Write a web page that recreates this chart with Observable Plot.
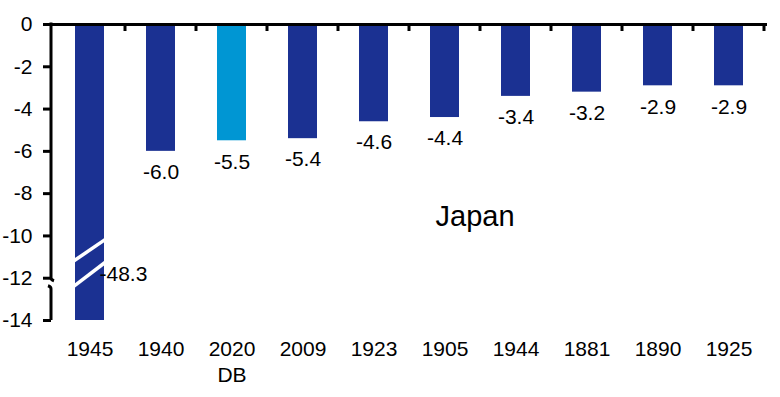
<!DOCTYPE html>
<html>
<head>
<meta charset="utf-8">
<script src="https://cdn.jsdelivr.net/npm/d3@7"></script>
<script src="https://cdn.jsdelivr.net/npm/@observablehq/plot@0.6"></script>
<style>
  html, body { margin: 0; padding: 0; background: #fff; }
  #chart svg { display: block; }
</style>
</head>
<body>
<div id="chart"></div>
<script>
// Data
const categories = ["1945", "1940", "2020\nDB", "2009", "1923", "1905", "1944", "1881", "1890", "1925"];
const values = [-48.3, -6.0, -5.5, -5.4, -4.6, -4.4, -3.4, -3.2, -2.9, -2.9];
const highlighted = ["2020\nDB"];
const yTicks = [0, -2, -4, -6, -8, -10, -12, -14];
const panelLabel = "Japan";

const data = categories.map((c, i) => ({cat: c, value: values[i], hl: highlighted.includes(c)}));

const navy = "#1B3192";
const lightBlue = "#0096D3";
const font = "'Liberation Sans', Arial, Helvetica, sans-serif";

// Custom decorations: band-boundary ticks on the zero line, broken y-axis line, break marks on clipped bar
function decorations(...args) {
  const scales = args.find(a => a && typeof a.x === "function" && typeof a.y === "function");
  const dims = args.find(a => a && typeof a === "object" && "marginLeft" in a && "width" in a);
  const x = scales.x, y = scales.y;
  const bw = typeof x.bandwidth === "function" ? x.bandwidth() : x.bandwidth;
  const step = typeof x.step === "function" ? x.step() : x.step;
  const g = d3.create("svg:g");
  const left = dims.marginLeft;
  // boundary ticks hanging from the zero line
  for (const c of categories) {
    const xb = x(c) + bw / 2 + step / 2;
    g.append("line").attr("x1", xb).attr("x2", xb).attr("y1", y(0)).attr("y2", y(0) + 7)
      .attr("stroke", "#000").attr("stroke-width", 3);
  }
  // y axis line with break
  const yBreakTop = y(-12), yBreakBot = y(-12.38);
  g.append("path")
    .attr("d", `M${left},${y(0) - 1.5}L${left},${yBreakTop}q0,2 3,3`)
    .attr("fill", "none").attr("stroke", "#000").attr("stroke-width", 3);
  g.append("path")
    .attr("d", `M${left - 3},${yBreakBot}q3,1 3,3L${left},${y(-14)}`)
    .attr("fill", "none").attr("stroke", "#000").attr("stroke-width", 3);
  // break marks on the clipped bar
  const c0 = categories[0];
  const xl = x(c0) - 1, xr = x(c0) + bw + 1;
  const breaks = [[-11.2, -10.2], [-12.4, -11.28]];
  for (const [a, b] of breaks) {
    g.append("line").attr("x1", xl).attr("y1", y(a)).attr("x2", xr).attr("y2", y(b))
      .attr("stroke", "#fff").attr("stroke-width", 3.5);
  }
  return g.node();
}

const chart = Plot.plot({
  width: 780,
  height: 397,
  marginLeft: 51,
  marginRight: 13,
  marginTop: 24,
  marginBottom: 77,
  style: {fontFamily: font, color: "#000", background: "#fff", overflow: "visible"},
  x: {domain: categories, paddingInner: 0.59, paddingOuter: 0.295, label: null},
  y: {domain: [-14, 0], clamp: true, label: null},
  marks: [
    Plot.barY(data, {x: "cat", y: "value", fill: d => d.hl ? lightBlue : navy}),
    Plot.ruleY([0], {stroke: "#000", strokeWidth: 3}),
    Plot.axisY({ticks: yTicks, tickFormat: d => String(d), tickSize: 8, tickPadding: 11, strokeWidth: 3, fontSize: 21, label: null}),
    Plot.axisX({tickSize: 0, tickPadding: 17, fontSize: 21, lineHeight: 1.24, label: null}),
    Plot.text(data.slice(1), {x: "cat", y: "value", text: d => d.value.toFixed(1), dy: 21, lineAnchor: "middle", fontSize: 21, fill: "#000"}),
    decorations,
    Plot.text(data.slice(0, 1), {x: "cat", y: () => -11.8, text: d => d.value.toFixed(1), dx: 9.5, textAnchor: "start", lineAnchor: "middle", fontSize: 21, fill: "#000"}),
    Plot.text([panelLabel], {x: () => categories[5], y: () => -9.1, text: d => d, dx: 30, lineAnchor: "middle", fontSize: 29, fill: "#000"})
  ]
});

document.getElementById("chart").appendChild(chart);
</script>
</body>
</html>
